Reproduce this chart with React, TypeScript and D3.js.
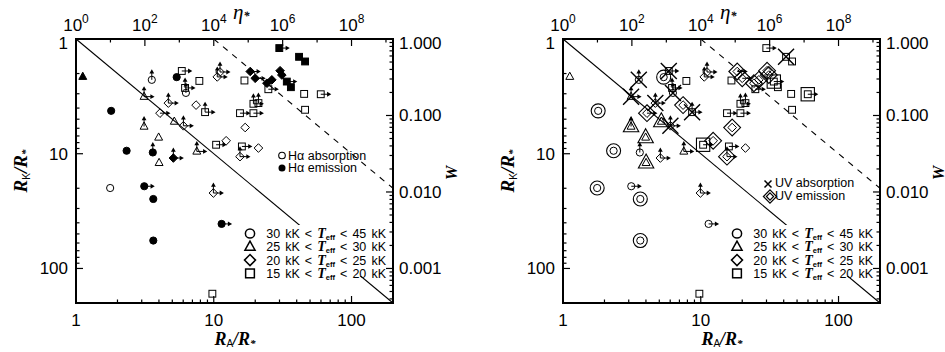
import React from "react";
import * as d3 from "d3";

// R_A / R_* and R_K / R_* for each star
const raVals = [
  1.12, 3.55, 5.38, 5.86, 7.86, 6.19, 6.28, 10.6, 11.1, 3.12, 4.68, 7.44, 8.65, 15.5, 1.8, 4.07, 5.17, 3.12, 6.02,
  3.98, 2.33, 3.61, 4.01, 5.09, 7.53, 10.4, 12.3, 16.0, 15.5, 29.9, 41.6, 46.0, 18.4, 20.0, 24.3, 26.4, 30.3, 31.2,
  33.9, 36.3, 16.7, 24.9, 45.3, 59.8, 46.0, 19.4, 21.1, 19.4, 16.9, 21.1, 1.77, 3.13, 3.64, 3.64, 11.4, 9.94, 9.77,
];
const rkVals = [
  2.13, 2.27, 2.15, 1.9, 2.32, 2.67, 2.95, 2.14, 1.94, 3.18, 3.62, 3.77, 4.34, 4.43, 4.23, 4.43, 5.24, 5.79, 5.71,
  7.21, 9.42, 9.75, 12.0, 10.9, 9.55, 8.35, 7.71, 8.64, 10.6, 1.2, 1.43, 1.57, 1.92, 2.2, 2.43, 2.27, 1.89, 2.06,
  2.35, 2.63, 2.3, 2.74, 3.01, 3.03, 4.14, 3.67, 3.62, 4.43, 5.91, 8.92, 19.9, 19.2, 24.8, 57.1, 40.9, 22.0, 166,
];
// temperature class: c 30-45kK, t 25-30kK, d 20-25kK, s 15-20kK
const tClass = [
  "t", "c", "c", "s", "s", "s", "c", "d", "d", "t", "d", "d", "s", "s", "c", "d", "t", "t", "d",
  "t", "c", "c", "t", "d", "t", "s", "d", "s", "d", "s", "s", "s", "d", "d", "d", "d", "d", "d",
  "s", "s", "s", "s", "s", "s", "s", "s", "s", "s", "d", "d", "c", "c", "c", "c", "c", "d", "s",
];
// H-alpha: a absorption, e emission
const haLine = [
  "e", "a", "e", "a", "a", "a", "a", "a", "a", "a", "a", "a", "a", "a", "e", "a", "a", "a", "a",
  "a", "e", "e", "a", "e", "a", "a", "a", "a", "a", "e", "e", "e", "e", "e", "e", "e", "e", "e",
  "e", "e", "a", "a", "a", "a", "a", "a", "a", "a", "a", "a", "a", "e", "e", "e", "e", "a", "a",
];
// UV lines: a absorption, e emission, "" none
const uvLine = [
  "", "a", "e", "a", "", "", "a", "", "", "a", "a", "e", "a", "", "e", "e", "e", "e", "a",
  "e", "e", "", "e", "", "", "e", "e", "", "e", "", "a", "", "e", "e", "e", "e", "e", "e",
  "e", "", "", "", "", "e", "", "", "", "", "e", "", "e", "", "e", "e", "", "", "",
];
// limit arrows: u up, r right
const limits = [
  "", "u", "", "r", "", "ur", "u", "ur", "ur", "ur", "ur", "", "ur", "r", "", "r", "", "u", "ur",
  "", "", "u", "", "ur", "ur", "r", "", "r", "ur", "r", "", "", "r", "r", "", "", "", "",
  "r", "", "", "r", "", "r", "", "ur", "u", "r", "", "", "", "r", "", "", "r", "ur", "",
];

const xTicksLabelled = [1, 10, 100];
const yTicksLabelled = [1, 10, 100];
const wTicksLabelled = [1, 0.1, 0.01, 0.001];
const wTickText = ["1.000", "0.100", "0.010", "0.001"];
const etaExps = [0, 2, 4, 6, 8];
const tLow = ["30", "25", "20", "15"];
const tHigh = ["45", "30", "25", "20"];
const legendShapes = ["c", "t", "d", "s"];

const SANS = "'Liberation Sans', Arial, sans-serif";
const SERIF = "'Liberation Serif', 'Times New Roman', serif";
const L = 76, R = 393, T = 39, B = 303;

function Shape({ kind, s, fill, sw }) {
  const common = { fill, stroke: "#000", strokeWidth: sw };
  if (kind === "c") return <circle r={s} {...common} />;
  if (kind === "s") return <rect x={-s * 0.95} y={-s * 0.95} width={s * 1.9} height={s * 1.9} {...common} />;
  if (kind === "t")
    return <path d={`M0,${-s * 1.25}L${s * 1.1},${s * 0.75}L${-s * 1.1},${s * 0.75}Z`} {...common} />;
  return <path d={`M0,${-s * 1.2}L${s * 1.2},0L0,${s * 1.2}L${-s * 1.2},0Z`} {...common} />;
}

function Arrows({ lim }) {
  return (
    <g stroke="#000" strokeWidth={1} fill="#000">
      {lim.includes("u") && (
        <g>
          <line x1={0} y1={0} x2={0} y2={-7.5} />
          <path d="M0,-10.5L-2.4,-6.3L2.4,-6.3Z" stroke="none" />
        </g>
      )}
      {lim.includes("r") && (
        <g>
          <line x1={0} y1={0} x2={7.5} y2={0} />
          <path d="M10.5,0L6.3,-2.4L6.3,2.4Z" stroke="none" />
        </g>
      )}
    </g>
  );
}

function Panel({ dx, mode }) {
  const x = d3.scaleLog().domain([1, 200]).range([L, R]);
  const y = d3.scaleLog().domain([1, 200]).range([T, B]);
  const w = d3.scaleLog().domain([1, Math.pow(200, -1.5)]).range([T, B]);
  const eta = d3.scaleLog().domain([1, Math.pow(200, 4)]).range([L, R]);
  const isMajor = (v) => Math.abs(Math.log10(v) - Math.round(Math.log10(v))) < 1e-6;
  const etaTicks = d3.range(0, 10).map((e) => Math.pow(10, e));

  return (
    <g transform={`translate(${dx},0)`}>
      {/* reference lines */}
      <line x1={x(1)} y1={y(1)} x2={x(200)} y2={y(200)} stroke="#000" strokeWidth={1.1} />
      <line x1={x(10)} y1={y(1)} x2={x(200)} y2={y(20)} stroke="#000" strokeWidth={1.1} strokeDasharray="6,6" />
      <rect x={243} y={225} width={147} height={51} fill="#fff" />

      {/* data */}
      {raVals.map((ra, i) => {
        const filled = mode === "ha" && haLine[i] === "e";
        return (
          <g key={i} transform={`translate(${x(ra)},${y(rkVals[i])})`}>
            {mode === "uv" && uvLine[i] === "e" && <Shape kind={tClass[i]} s={7} fill="none" sw={1.1} />}
            <Shape kind={tClass[i]} s={3.6} fill={filled ? "#000" : "none"} sw={1} />
            <Arrows lim={limits[i]} />
            {mode === "uv" && uvLine[i] === "a" && (
              <path d="M-8,-8L8,8M-8,8L8,-8" stroke="#000" strokeWidth={1.4} />
            )}
          </g>
        );
      })}

      {/* line-type legend */}
      {mode === "ha" ? (
        <g fontFamily={SANS} fontSize={12.5}>
          <circle cx={282} cy={155.5} r={3.3} fill="none" stroke="#000" strokeWidth={1.1} />
          <text x={288} y={159.5}>Hα absorption</text>
          <circle cx={282} cy={168} r={3.5} fill="#000" />
          <text x={288} y={172}>Hα emission</text>
        </g>
      ) : (
        <g fontFamily={SANS} fontSize={12.5}>
          <path d="M277.5,180.5L284.5,187.5M277.5,187.5L284.5,180.5" stroke="#000" strokeWidth={1.5} />
          <text x={288} y={187}>UV absorption</text>
          <g transform="translate(283,196.5)">
            <Shape kind="d" s={5.5} fill="none" sw={1.2} />
            <Shape kind="d" s={3} fill="none" sw={1.2} />
          </g>
          <text x={288} y={200}>UV emission</text>
        </g>
      )}

      {/* temperature legend */}
      {legendShapes.map((k, i) => {
        const yy = 233.5 + i * 13.3;
        return (
          <g key={k}>
            <g transform={`translate(250,${yy})`}>
              <Shape kind={k} s={4.6} fill="none" sw={1.5} />
            </g>
            <text x={386} y={yy + 4.5} textAnchor="end" fontFamily={SANS} fontSize={12.5} wordSpacing={1.6}>
              {tLow[i]} kK &lt;{" "}
              <tspan fontFamily={SERIF} fontStyle="italic" fontWeight="bold" fontSize={14}>T</tspan>
              <tspan fontSize={7.5} fontWeight="bold" dy={2}>eff</tspan>
              <tspan dy={-2}> &lt; {tHigh[i]} kK</tspan>
            </text>
          </g>
        );
      })}

      {/* frame */}
      <rect x={L} y={T} width={R - L} height={B - T} fill="none" stroke="#000" strokeWidth={2} />

      {/* bottom axis */}
      {x.ticks().map((v, i) => (
        <line key={"bx" + i} x1={x(v)} x2={x(v)} y1={B} y2={B - (isMajor(v) ? 7 : 3.5)} stroke="#000" strokeWidth={1.2} />
      ))}
      {xTicksLabelled.map((v) => (
        <text key={"bl" + v} x={x(v)} y={326} textAnchor="middle" fontFamily={SANS} fontSize={17}>
          {v}
        </text>
      ))}

      {/* left axis */}
      {y.ticks().map((v, i) => (
        <line key={"ly" + i} x1={L} x2={L + (isMajor(v) ? 7 : 3.5)} y1={y(v)} y2={y(v)} stroke="#000" strokeWidth={1.2} />
      ))}
      {yTicksLabelled.map((v, i) => (
        <text key={"yl" + v} x={68} y={y(v) + 6 + (i === 0 ? 4 : 0)} textAnchor="end" fontFamily={SANS} fontSize={17}>
          {v}
        </text>
      ))}

      {/* right axis: W */}
      {w.ticks().map((v, i) => (
        <line key={"rw" + i} x1={R} x2={R - (isMajor(v) ? 7 : 3.5)} y1={w(v)} y2={w(v)} stroke="#000" strokeWidth={1.2} />
      ))}
      {wTicksLabelled.map((v, i) => (
        <text key={"wl" + i} x={399} y={w(v) + 6 + (i === 0 ? 4 : 0)} fontFamily={SANS} fontSize={17}>
          {wTickText[i]}
        </text>
      ))}

      {/* top axis: eta */}
      {etaTicks.map((v, i) => (
        <line key={"te" + i} x1={eta(v)} x2={eta(v)} y1={T} y2={T + (i % 2 === 0 ? 7 : 3.5)} stroke="#000" strokeWidth={1.2} />
      ))}
      {etaExps.map((e) => (
        <text key={"el" + e} x={eta(Math.pow(10, e))} y={31} textAnchor="middle" fontFamily={SANS} fontSize={17}>
          10<tspan fontSize={12} dy={-8}>{e}</tspan>
        </text>
      ))}

      {/* axis titles */}
      <text x={233} y={19} fontFamily={SERIF} fontStyle="italic" fontSize={21}>
        η<tspan fontSize={12} fontWeight="bold" dy={1}>*</tspan>
      </text>
      <text x={235} y={344.5} textAnchor="middle" fontFamily={SERIF} fontStyle="italic" fontWeight="bold" fontSize={18}>
        R<tspan fontFamily={SANS} fontStyle="normal" fontWeight="normal" fontSize={10} dy={2.5}>A</tspan>
        <tspan dy={-2.5}>/R</tspan>
        <tspan fontSize={11} dy={2}>*</tspan>
      </text>
      <text
        transform={`translate(27,${(T + B) / 2}) rotate(-90)`}
        textAnchor="middle"
        fontFamily={SERIF}
        fontStyle="italic"
        fontWeight="bold"
        fontSize={19}
      >
        R<tspan fontFamily={SANS} fontStyle="normal" fontWeight="normal" fontSize={10} dy={3}>K</tspan>
        <tspan dy={-3}>/R</tspan>
        <tspan fontSize={11} dy={2}>*</tspan>
      </text>
      <text
        transform={`translate(457,${(T + B) / 2 + 2}) rotate(-90)`}
        textAnchor="middle"
        fontFamily={SERIF}
        fontStyle="italic"
        fontWeight="bold"
        fontSize={16}
      >
        W
      </text>
    </g>
  );
}

export default function App() {
  return (
    <svg
      width={945}
      height={352}
      style={{ position: "absolute", left: 0, top: 0, background: "#fff" }}
    >
      <rect width={945} height={352} fill="#fff" />
      <Panel dx={0} mode="ha" />
      <Panel dx={487} mode="uv" />
    </svg>
  );
}
